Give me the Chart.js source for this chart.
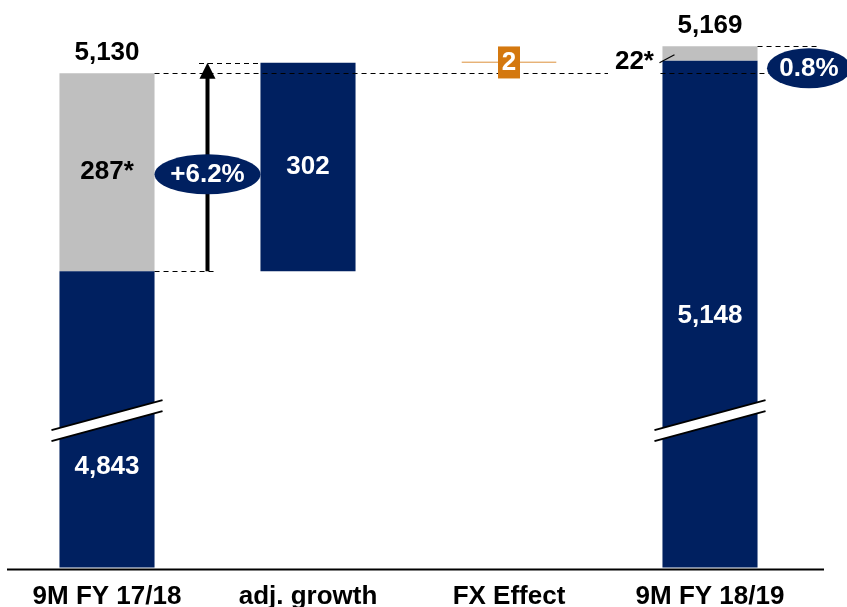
<!DOCTYPE html>
<html>
<head>
<meta charset="utf-8">
<script src="https://cdn.jsdelivr.net/npm/chart.js@4/dist/chart.umd.min.js"></script>
<style>
  html, body { margin: 0; padding: 0; background: #fff; }
  #wrap { width: 847px; height: 607px; }
</style>
</head>
<body>
<div id="wrap"><canvas id="chart" width="847" height="607"></canvas></div>
<script>
// --- DATA ---
const categories = ['9M FY 17/18', 'adj. growth', 'FX Effect', '9M FY 18/19'];
const coreValues = [4843, [4843, 5145], null, 5148];
const portfolioValues = [[4843, 5130], null, null, [5148, 5169]];
const fxValues = [null, null, [5145, 5147], null];
const totalValues = [5130, null, null, 5169];
const totalLabels = ['5,130', null, null, '5,169'];
const coreLabels = ['4,843', '302', null, '5,148'];
const portfolioLabels = ['287*', null, null, '22*'];
const fxLabel = '2';
const growthLabels = ['+6.2%', '0.8%'];
const yMin = 4414;
const yMax = 5236;

const NAVY = '#002060';
const GREY = '#BFBFBF';
const ORANGE = '#D4780F';
const FONT = 'bold 26px "Liberation Sans", Arial, sans-serif';

function dashed(ctx, x1, x2, y) {
    ctx.save();
    ctx.strokeStyle = '#000';
    ctx.lineWidth = 1;
    ctx.setLineDash([5, 4]);
    ctx.beginPath();
    ctx.moveTo(x1, Math.round(y) + 0.5);
    ctx.lineTo(x2, Math.round(y) + 0.5);
    ctx.stroke();
    ctx.restore();
}

function text(ctx, str, x, y, color) {
    ctx.fillStyle = color;
    ctx.font = FONT;
    ctx.textAlign = 'center';
    ctx.textBaseline = 'middle';
    ctx.fillText(str, x, y);
}

function pill(ctx, str, cx, cy, rx, ry) {
    ctx.fillStyle = NAVY;
    ctx.beginPath();
    ctx.ellipse(cx, cy, rx, ry, 0, 0, Math.PI * 2);
    ctx.fill();
    text(ctx, str, cx, cy + 1, '#fff');
}

function breakMark(ctx, bar, yc) {
    const x1 = bar.x - bar.width / 2 - 8, x2 = bar.x + bar.width / 2 + 8;
    const rise = 30, gap = 11;
    ctx.save();
    ctx.fillStyle = '#fff';
    ctx.beginPath();
    ctx.moveTo(x1, yc + rise / 2 - gap / 2);
    ctx.lineTo(x2, yc - rise / 2 - gap / 2);
    ctx.lineTo(x2, yc - rise / 2 + gap / 2);
    ctx.lineTo(x1, yc + rise / 2 + gap / 2);
    ctx.closePath();
    ctx.fill();
    ctx.strokeStyle = '#000';
    ctx.lineWidth = 2;
    ctx.beginPath();
    ctx.moveTo(x1, yc + rise / 2 - gap / 2);
    ctx.lineTo(x2, yc - rise / 2 - gap / 2);
    ctx.moveTo(x1, yc + rise / 2 + gap / 2);
    ctx.lineTo(x2, yc - rise / 2 + gap / 2);
    ctx.stroke();
    ctx.restore();
}

const decorations = {
    id: 'decorations',
    afterDatasetsDraw(chart) {
        const ctx = chart.ctx;
        const y = chart.scales.y;
        const area = chart.chartArea;
        const core = chart.getDatasetMeta(0).data;
        const fx = chart.getDatasetMeta(2).data;
        const b0 = core[0], b1 = core[1], b3 = core[3];
        const left = b => b.x - b.width / 2;
        const right = b => b.x + b.width / 2;

        // axis line
        ctx.save();
        ctx.strokeStyle = '#000';
        ctx.lineWidth = 2;
        ctx.beginPath();
        ctx.moveTo(7, area.bottom + 2);
        ctx.lineTo(824, area.bottom + 2);
        ctx.stroke();
        ctx.restore();

        // break marks
        breakMark(ctx, b0, area.bottom - 147);
        breakMark(ctx, b3, area.bottom - 147);

        // dashed guides
        const yStart = y.getPixelForValue(coreValues[0]);
        const yPrev = y.getPixelForValue(totalValues[0]);
        const yGrowth = y.getPixelForValue(coreValues[1][1]);
        const yCur = y.getPixelForValue(totalValues[3]);
        dashed(ctx, right(b0), right(b0) + 60, yStart);
        dashed(ctx, right(b0), 608, yPrev);
        dashed(ctx, left(b3) - 2, right(b3) + 12, yPrev);
        dashed(ctx, b0.x + 92, left(b1), yGrowth);
        dashed(ctx, right(b3), right(b3) + 60, yCur);

        // growth arrow
        const ax = (right(b0) + left(b1)) / 2;
        ctx.save();
        ctx.strokeStyle = '#000';
        ctx.fillStyle = '#000';
        ctx.lineWidth = 4;
        ctx.beginPath();
        ctx.moveTo(ax, yStart);
        ctx.lineTo(ax, yGrowth + 14);
        ctx.stroke();
        ctx.beginPath();
        ctx.moveTo(ax, yGrowth);
        ctx.lineTo(ax - 8, yGrowth + 16);
        ctx.lineTo(ax + 8, yGrowth + 16);
        ctx.closePath();
        ctx.fill();
        ctx.restore();

        // labels
        text(ctx, totalLabels[0], b0.x, yPrev - 20, '#000');
        text(ctx, portfolioLabels[0], b0.x, (yPrev + yStart) / 2, '#000');
        text(ctx, coreLabels[0], b0.x, area.bottom - 101, '#fff');
        text(ctx, coreLabels[1], b1.x, (yStart + yGrowth) / 2, '#fff');
        const yEnd = y.getPixelForValue(coreValues[3]);
        text(ctx, coreLabels[3], b3.x, (yEnd + area.bottom) / 2 + 2, '#fff');
        text(ctx, totalLabels[3], b3.x, yCur - 20, '#000');
        text(ctx, portfolioLabels[3], left(b3) - 28, yEnd + 1, '#000');

        // leader line for 22*
        ctx.save();
        ctx.strokeStyle = '#000';
        ctx.lineWidth = 1.2;
        ctx.beginPath();
        ctx.moveTo(left(b3) - 3, yEnd + 2);
        ctx.lineTo(left(b3) + 12, yEnd - 6);
        ctx.stroke();
        ctx.restore();

        // FX box
        const f = fx[2];
        ctx.fillStyle = ORANGE;
        ctx.fillRect(f.x - 11, f.y - 15, 22, 32);
        text(ctx, fxLabel, f.x, f.y + 1, '#fff');

        // growth pills
        pill(ctx, growthLabels[0], ax, (yPrev + yStart) / 2 + 2, 53, 20);
        pill(ctx, growthLabels[1], 809, yPrev - 5, 42, 20);
    }
};

new Chart(document.getElementById('chart'), {
    type: 'bar',
    data: {
        labels: categories,
        datasets: [
            { label: 'core', data: coreValues, backgroundColor: NAVY, grouped: false },
            { label: 'portfolio', data: portfolioValues, backgroundColor: GREY, grouped: false },
            { label: 'fx', data: fxValues, backgroundColor: ORANGE, borderColor: ORANGE, borderWidth: 2, borderSkipped: false, grouped: false }
        ]
    },
    options: {
        responsive: false,
        animation: false,
        layout: { padding: { left: 6.5, right: 36.5, top: 0, bottom: -20 } },
        categoryPercentage: 1,
        barPercentage: 0.473,
        plugins: { legend: { display: false }, tooltip: { enabled: false } },
        scales: {
            x: {
                grid: { display: false, drawTicks: false },
                border: { display: false },
                ticks: {
                    color: '#000',
                    padding: 18,
                    font: { family: '"Liberation Sans", Arial, sans-serif', size: 26, weight: 'bold', lineHeight: 0.9 }
                }
            },
            y: {
                display: false,
                min: yMin,
                max: yMax
            }
        }
    },
    plugins: [decorations]
});
</script>
</body>
</html>
